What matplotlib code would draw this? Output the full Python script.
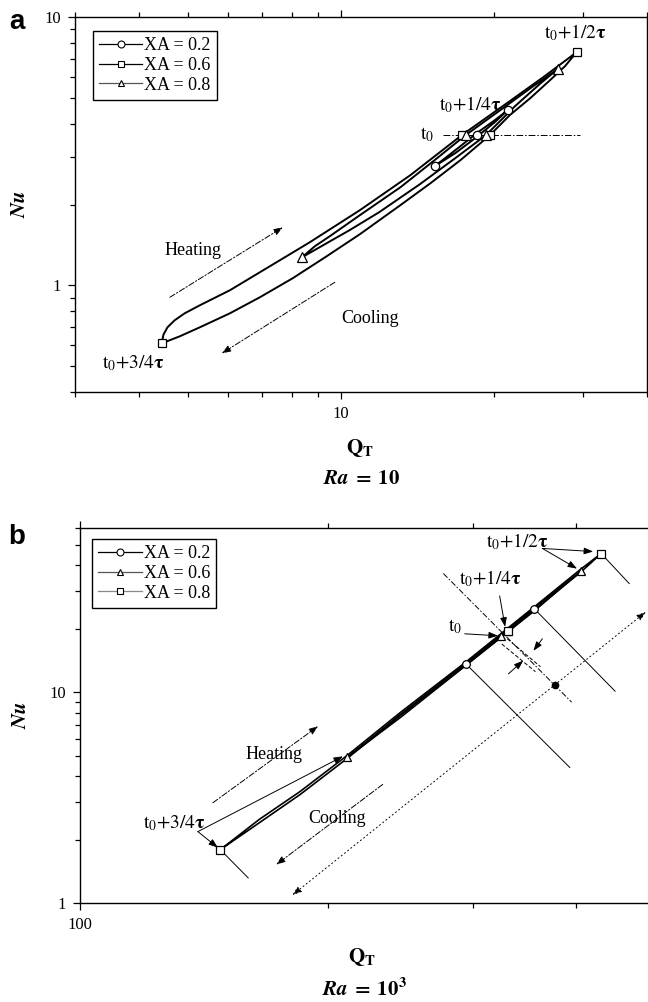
import matplotlib
matplotlib.use("Agg")
import matplotlib.pyplot as plt
from matplotlib.lines import Line2D
from matplotlib.ticker import FixedLocator, FixedFormatter, NullFormatter

plt.rcParams['font.family'] = ['Liberation Serif', 'DejaVu Serif']
plt.rcParams['mathtext.fontset'] = 'stix'

# ---------------- panel a : Ra = 10 ----------------
# XA = 0.6, outer loop (squares): heating branch then cooling branch
qa_06 = [4.44, 4.48, 4.56, 4.71, 4.93, 5.28, 6.05, 7.25, 8.69, 10.9, 13.7, 17.3, 21.5, 25.2, 29.1,
         27.6, 25.8, 23.6, 21.5, 19.65, 17.2, 15.0, 13.1, 10.9, 9.38, 8.04, 6.93, 6.05, 5.28, 4.82, 4.44]
nua_06 = [0.607, 0.656, 0.697, 0.740, 0.786, 0.842, 0.958, 1.177, 1.447, 1.905, 2.573, 3.63, 4.86, 6.03, 7.40,
          6.56, 5.82, 4.99, 4.31, 3.63, 2.93, 2.40, 1.99, 1.55, 1.283, 1.062, 0.902, 0.786, 0.697, 0.645, 0.607]
# XA = 0.8 (triangles)
qa_08 = [8.38, 8.89, 9.51, 10.9, 13.1, 15.3, 17.6, 20.6, 23.6, 26.7,
         24.6, 22.0, 19.3, 16.8, 14.3, 11.9, 10.4, 9.30, 8.38]
nua_08 = [1.27, 1.398, 1.523, 1.825, 2.32, 2.93, 3.63, 4.50, 5.43, 6.40,
          5.62, 4.65, 3.63, 2.98, 2.38, 1.873, 1.604, 1.422, 1.27]
# XA = 0.2 (circles)
qa_02 = [15.3, 16.8, 18.5, 20.1, 21.3, 20.1, 18.5, 16.8, 15.3]
nua_02 = [2.78, 3.19, 3.69, 4.13, 4.50, 4.06, 3.57, 3.11, 2.78]

# marked instants
mqa_02, mnua_02 = [15.3, 18.5, 21.3], [2.78, 3.63, 4.50]
mqa_06, mnua_06 = [4.44, 17.3, 19.65, 29.1], [0.607, 3.63, 3.63, 7.40]
mqa_08, mnua_08 = [8.38, 17.6, 19.3, 26.7], [1.27, 3.63, 3.63, 6.40]

# ---------------- panel b : Ra = 10^3 ----------------
qb_08 = [148, 165, 185, 211, 245, 294, 356, 406, 429, 406, 356, 294, 245, 211, 185, 165, 148]
nub_08 = [1.79, 2.49, 3.38, 5.01, 8.03, 13.9, 25.4, 38.5, 45.4, 37.3, 24.6, 13.4, 7.77, 4.85, 3.27, 2.40, 1.79]
qb_06 = [211, 245, 294, 356, 406, 356, 294, 245, 211]
nub_06 = [4.90, 7.86, 13.7, 25.1, 37.7, 24.3, 13.4, 7.6, 4.90]
qb_02 = [294, 324, 356, 324, 294]
nub_02 = [13.6, 18.5, 24.8, 18.1, 13.6]

mqb_02, mnub_02 = [294, 356], [13.6, 24.8]
mqb_06, mnub_06 = [211, 324, 331, 406], [4.90, 18.5, 19.5, 37.7]
mqb_08, mnub_08 = [148, 331, 429], [1.79, 19.5, 45.4]

legend_a = ["XA = 0.2", "XA = 0.6", "XA = 0.8"]
legend_b = ["XA = 0.2", "XA = 0.6", "XA = 0.8"]


def style(ax, xlim, ylim, xmaj, xlab, xmin, ymaj, ylab, ymin):
    ax.set_xscale('log')
    ax.set_yscale('log')
    ax.set_xlim(*xlim)
    ax.set_ylim(*ylim)
    ax.xaxis.set_major_locator(FixedLocator(xmaj))
    ax.xaxis.set_major_formatter(FixedFormatter(xlab))
    ax.xaxis.set_minor_locator(FixedLocator(xmin))
    ax.xaxis.set_minor_formatter(NullFormatter())
    ax.yaxis.set_major_locator(FixedLocator(ymaj))
    ax.yaxis.set_major_formatter(FixedFormatter(ylab))
    ax.yaxis.set_minor_locator(FixedLocator(ymin))
    ax.yaxis.set_minor_formatter(NullFormatter())
    ax.tick_params(which='both', direction='out', top=True, right=True, width=0.9, labelsize=12)
    ax.tick_params(which='major', length=5, pad=5)
    ax.tick_params(which='minor', length=3.5)
    for s in ax.spines.values():
        s.set_linewidth(1.0)


def marks(ax, q, nu, m, ms):
    ax.plot(q, nu, ls='none', marker=m, ms=ms, mfc='white', mec='k', mew=0.9, zorder=4)


def arrow(ax, tail, head, ls='-', style='-|>,head_length=0.55,head_width=0.2'):
    ax.annotate('', xy=head, xytext=tail,
                arrowprops=dict(arrowstyle=style, lw=0.7, color='k', linestyle=ls,
                                shrinkA=0, shrinkB=0))


def legend(ax, labels, markers, colors, anchor):
    hs = [Line2D([], [], color=c, lw=0.9, marker=m, ms=5, mfc='white', mec='k', mew=0.8)
          for m, c in zip(markers, colors)]
    lg = ax.legend(hs, labels, loc='upper left', bbox_to_anchor=anchor, borderaxespad=0,
                   fontsize=13, handlelength=2.4, handletextpad=0.1, labelspacing=0.15,
                   borderpad=0.35, fancybox=False, framealpha=1, edgecolor='k')
    lg.get_frame().set_linewidth(1.0)


fig = plt.figure(figsize=(6.48, 10.02), dpi=100)

# ---------- a ----------
ax = fig.add_axes([75 / 648, 1 - 392 / 1002, 572 / 648, 375 / 1002])
style(ax, (3, 40), (0.4, 10),
      [10], ["10"], [3, 4, 5, 6, 7, 8, 9, 20, 30, 40],
      [1, 10], ["1", "10"], [0.4, 0.5, 0.6, 0.7, 0.8, 0.9, 2, 3, 4, 5, 6, 7, 8, 9])
ax.plot(qa_06, nua_06, color='k', lw=1.4)
ax.plot(qa_08, nua_08, color='k', lw=1.4)
ax.plot(qa_02, nua_02, color='k', lw=1.4)
ax.plot([15.9, 29.5], [3.63, 3.63], color='k', lw=0.7, ls=(0, (7, 2, 1.5, 2)))
marks(ax, mqa_02, mnua_02, 'o', 6)
marks(ax, mqa_06, mnua_06, 's', 6)
marks(ax, mqa_08, mnua_08, '^', 6.5)

arrow(ax, (4.61, 0.902), (7.69, 1.645), ls=(0, (6, 2, 1.5, 2)))
arrow(ax, (9.73, 1.026), (5.83, 0.557), ls=(0, (6, 2, 1.5, 2)))
ax.text(5.11, 1.35, "Heating", fontsize=13, ha='center', va='center')
ax.text(11.4, 0.753, "Cooling", fontsize=13, ha='center', va='center')
ax.text(28.9, 8.72, r'$\mathrm{t_0{+}1/2}\mathbf{\tau}$', fontsize=14, ha='center', va='center')
ax.text(17.95, 4.70, r'$\mathrm{t_0{+}1/4}\mathbf{\tau}$', fontsize=14, ha='center', va='center')
ax.text(14.8, 3.63, r'$\mathrm{t_0}$', fontsize=14, ha='center', va='center')
ax.text(3.91, 0.512, r'$\mathrm{t_0{+}3/4}\mathbf{\tau}$', fontsize=14, ha='center', va='center')
legend(ax, legend_a, ['o', 's', '^'], ['k', 'k', '#555555'], (0.031, 0.963))
ax.yaxis.set_label_coords(-0.078, 0.5)
ax.set_ylabel(r'$\mathbfit{Nu}$', fontsize=15)
fig.text(360 / 648, 1 - 448 / 1002, r'$\mathbf{Q_T}$', fontsize=15, ha='center', va='center')
fig.text(362 / 648, 1 - 480 / 1002, r'$\mathbfit{Ra}\;\mathbf{=}\;\mathbf{10}$', fontsize=15,
         ha='center', va='center')
fig.text(17 / 648, 1 - 22 / 1002, 'a', fontsize=20, fontweight='bold',
         family='Liberation Sans', ha='center', va='center')

# ---------- b ----------
ax = fig.add_axes([80 / 648, 1 - 903 / 1002, 576 / 648, 375 / 1002])
style(ax, (100, 500), (1, 60),
      [100], ["100"], [200, 300, 400, 500],
      [1, 10], ["1", "10"], [2, 3, 4, 5, 6, 7, 8, 9, 20, 30, 40, 50, 60])
ax.plot(qb_08, nub_08, color='k', lw=1.2)
ax.plot(qb_06, nub_06, color='k', lw=1.2)
ax.plot(qb_02, nub_02, color='k', lw=1.2)

# normals through the marked instants
for (q0, n0), (q1, n1) in [((429, 45.4), (464, 32.7)), ((356, 24.8), (446, 10.1)),
                           ((294, 13.6), (393, 4.39)), ((148, 1.79), (160, 1.315))]:
    ax.plot([q0, q1], [n0, n1], color='k', lw=0.7)
ax.plot([276, 395], [36.5, 8.96], color='k', lw=0.7, ls=(0, (6, 2, 1.5, 2)))
ax.plot([330, 362], [17.9, 13.2], color='k', lw=0.7, ls=(0, (4, 2)))
ax.plot([325, 357], [16.9, 12.5], color='k', lw=0.7, ls=(0, (4, 2)))
arrow(ax, (364, 17.9), (355, 15.7))
arrow(ax, (331, 12.2), (345, 14.1))
ax.plot([377], [10.8], 'o', color='k', ms=4.5)
arrow(ax, (181, 1.09), (486, 24.0), ls=(0, (1.2, 3)), style='<|-|>,head_length=0.55,head_width=0.2')

marks(ax, mqb_02, mnub_02, 'o', 5.5)
marks(ax, mqb_06, mnub_06, '^', 6)
marks(ax, mqb_08, mnub_08, 's', 5.5)

arrow(ax, (145, 2.99), (194.5, 6.89), ls=(0, (6, 2, 1.5, 2)))
arrow(ax, (233, 3.65), (173, 1.52), ls=(0, (6, 2, 1.5, 2)))
ax.text(172, 5.07, "Heating", fontsize=13, ha='center', va='center')
ax.text(205, 2.51, "Cooling", fontsize=13, ha='center', va='center')

ax.text(339, 51.8, r'$\mathrm{t_0{+}1/2}\mathbf{\tau}$', fontsize=14, ha='center', va='center')
arrow(ax, (364, 48), (419.5, 46.4))
arrow(ax, (364, 48), (401, 38.5))
ax.text(315, 34.5, r'$\mathrm{t_0{+}1/4}\mathbf{\tau}$', fontsize=14, ha='center', va='center')
arrow(ax, (323, 28.6), (328, 20.4))
ax.text(285, 20.4, r'$\mathrm{t_0}$', fontsize=14, ha='center', va='center')
arrow(ax, (293, 18.9), (321.5, 18.5))
ax.text(130, 2.40, r'$\mathrm{t_0{+}3/4}\mathbf{\tau}$', fontsize=14, ha='center', va='center')
arrow(ax, (139, 2.18), (147, 1.83))
arrow(ax, (139, 2.18), (208.5, 4.96))

legend(ax, legend_b, ['o', '^', 's'], ['k', '#555555', '#888888'], (0.021, 0.971))
ax.yaxis.set_label_coords(-0.085, 0.5)
ax.set_ylabel(r'$\mathbfit{Nu}$', fontsize=15)
fig.text(362 / 648, 1 - 957 / 1002, r'$\mathbf{Q_T}$', fontsize=15, ha='center', va='center')
fig.text(364 / 648, 1 - 990 / 1002, r'$\mathbfit{Ra}\;\mathbf{=}\;\mathbf{10^3}$', fontsize=15,
         ha='center', va='center')
fig.text(17 / 648, 1 - 537 / 1002, 'b', fontsize=20, fontweight='bold',
         family='Liberation Sans', ha='center', va='center')

fig.savefig("out.png", dpi=100)
